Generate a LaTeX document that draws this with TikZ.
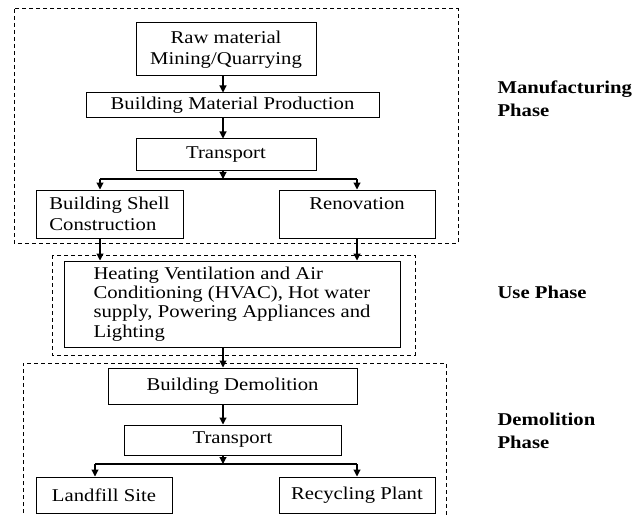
\documentclass[tikz,border=0pt]{standalone}
\usepackage{fontspec}
\setmainfont{Liberation Serif}[FakeStretch=1.15]
\usetikzlibrary{arrows.meta}
\begin{document}
\begin{tikzpicture}[x=1pt,y=-1pt,
  box/.style={draw, line width=1pt, rectangle, inner sep=0pt, font=\fontsize{18}{21}\selectfont},
  flow/.style={line width=1.1pt, -{Triangle[length=7pt,width=7pt]}},
  plain/.style={line width=1.1pt},
  phasebox/.style={draw, line width=1pt, dash pattern=on 4pt off 3pt},
  phaselabel/.style={anchor=west, align=left, font=\fontsize{18}{22.5}\selectfont\bfseries}]
\useasboundingbox (0,0) rectangle (632,516);
% phase boxes
\draw[phasebox] (14,9) rectangle (458,243);
\draw[phasebox] (52,255) rectangle (415,355);
\draw[phasebox] (23,520) -- (23,363) -- (446,363) -- (446,520);
% boxes
\node[box, minimum width=180pt, minimum height=53pt, align=center] (raw) at (226,49.5) {Raw material\\Mining/Quarrying};
\node[box, minimum width=293pt, minimum height=25pt] (bmp) at (232.5,105.5) {Building Material Production};
\node[box, minimum width=180pt, minimum height=32pt] (tr1) at (226,155) {Transport};
\node[box, minimum width=147pt, minimum height=48pt, align=left] (bsc) at (109.5,214) {Building Shell\\Construction};
\node[box, minimum width=156pt, minimum height=48pt, align=center] (ren) at (357,214) {Renovation\\\mbox{}};
\node[box, minimum width=336pt, minimum height=86pt, align=left, font=\fontsize{18}{19.2}\selectfont] (hvac) at (232,304) {Heating Ventilation and Air\\Conditioning (HVAC), Hot water\\supply, Powering Appliances and\\Lighting};
\node[box, minimum width=249pt, minimum height=36pt] (bd) at (232.5,386) {Building Demolition};
\node[box, minimum width=217pt, minimum height=30pt] (tr2) at (232.5,440) {Transport};
\node[box, minimum width=136pt, minimum height=36pt] (land) at (104,495) {Landfill Site};
\node[box, minimum width=156pt, minimum height=36pt] (rec) at (357,495) {Recycling Plant};
% junction coordinates
\coordinate (j1) at (223,179);
\coordinate (j1l) at (100,179);
\coordinate (j1r) at (357,179);
\coordinate (j2) at (223,464);
\coordinate (j2l) at (95,464);
\coordinate (j2r) at (357,464);
% connectors
\draw[flow] (raw.south -| j1) -- (bmp.north -| j1);
\draw[flow] (bmp.south -| j1) -- (tr1.north -| j1);
\draw[flow] (tr1.south -| j1) -- (j1);
\draw[plain] (j1l) -- (j1r);
\draw[flow] (j1l) -- (bsc.north -| j1l);
\draw[flow] (j1r) -- (ren.north);
\draw[flow] (bsc.south -| j1l) -- (hvac.north -| j1l);
\draw[flow] (ren.south) -- (hvac.north -| ren.south);
\draw[flow] (hvac.south -| j1) -- (bd.north -| j1);
\draw[flow] (bd.south -| j1) -- (tr2.north -| j1);
\draw[flow] (tr2.south -| j2) -- (j2);
\draw[plain] (j2l) -- (j2r);
\draw[flow] (j2l) -- (land.north -| j2l);
\draw[flow] (j2r) -- (rec.north);
% phase labels
\node[phaselabel] (lman) at (494,99) {Manufacturing\\Phase};
\node[phaselabel] (luse) at (494,292) {Use Phase};
\node[phaselabel] (ldem) at (494,431) {Demolition\\Phase};
\end{tikzpicture}
\end{document}
